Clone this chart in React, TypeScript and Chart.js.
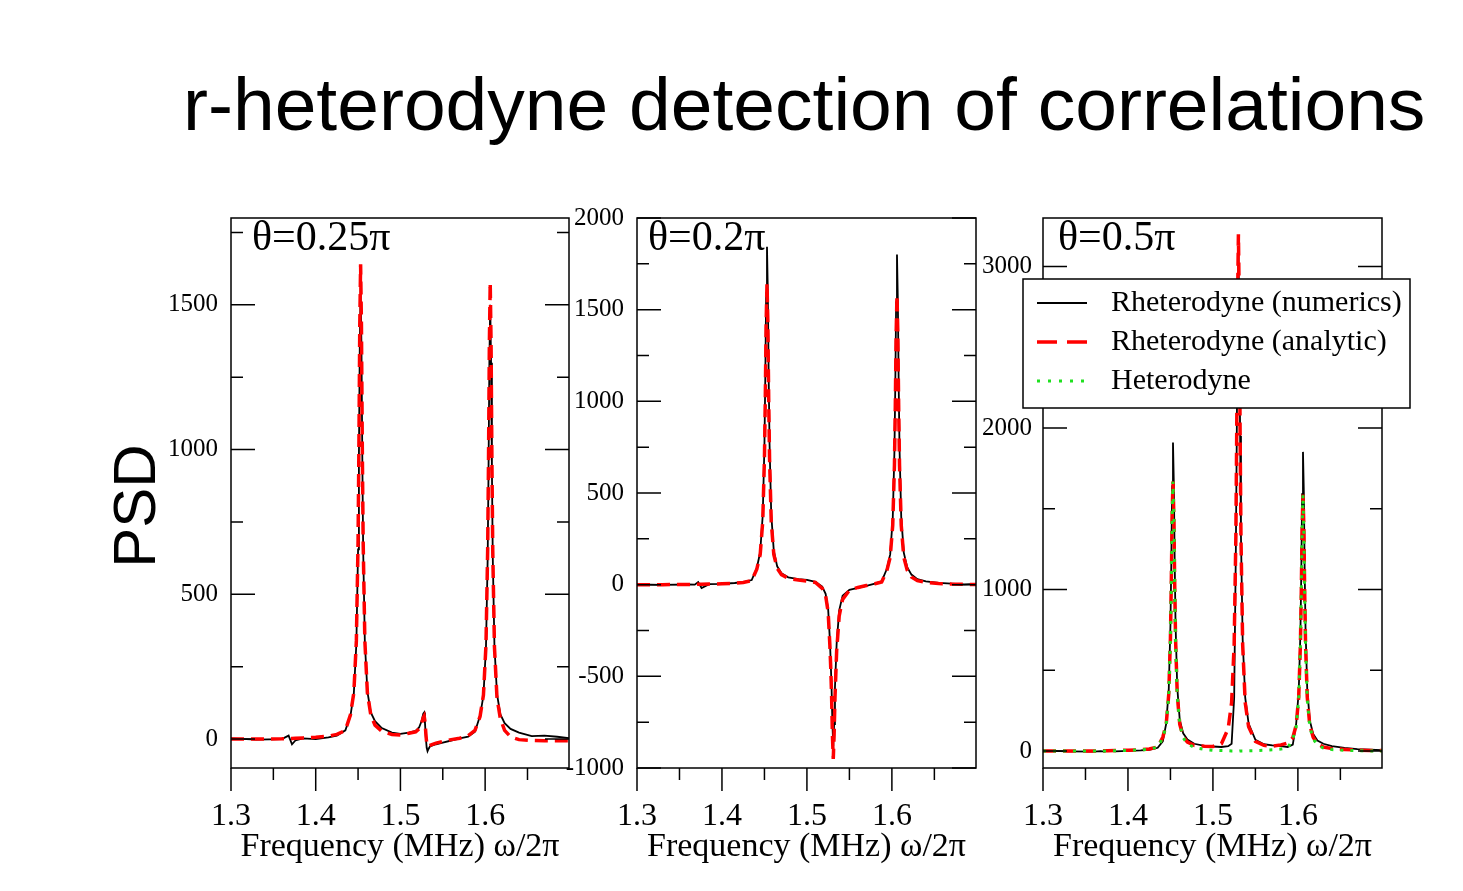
import React, { useEffect, useRef } from 'react';
import { Chart, registerables } from 'chart.js';

Chart.register(...registerables);

// frequency grid (MHz), denser around the resonances
const freq = [
  1.300, 1.330, 1.360, 1.368, 1.372, 1.376, 1.385, 1.400, 1.415, 1.425,
  1.435, 1.441, 1.445, 1.448, 1.450, 1.451, 1.452, 1.453, 1.454, 1.455,
  1.456, 1.458, 1.461, 1.465, 1.470, 1.478, 1.490, 1.500, 1.510, 1.518,
  1.522, 1.525, 1.527, 1.528, 1.529, 1.530, 1.531, 1.532, 1.533, 1.535,
  1.538, 1.542, 1.550, 1.560, 1.570, 1.580, 1.588, 1.594, 1.598, 1.601,
  1.603, 1.604, 1.605, 1.606, 1.607, 1.608, 1.609, 1.611, 1.614, 1.618,
  1.623, 1.630, 1.640, 1.655, 1.670, 1.685, 1.700,
];

// tick labels
const xTicks = [1.3, 1.4, 1.5, 1.6];
const p1YTicks = [0, 500, 1000, 1500];
const p2YTicks = [-1000, -500, 0, 500, 1000, 1500, 2000];
const p3YTicks = [0, 1000, 2000, 3000];

// theta = 0.25 pi
const p1Numerics = [
  2, -2, 0, 12, -18, -5, 2, 0, 6, 12,
  30, 80, 158, 330, 655, 970, 1350, 1560, 1355, 975,
  660, 335, 165, 92, 62, 38, 22, 18, 22, 28,
  40, 62, 88, 92, 55, 5, -30, -42, -35, -25,
  -22, -18, -12, -5, 2, 8, 25, 80, 150, 318,
  625, 925, 1300, 1500, 1300, 930, 630, 320, 155, 85,
  55, 35, 22, 10, 12, 8, 3,
];
const p1Analytic = [
  0, 0, 1, 2, 2, 3, 4, 6, 10, 16,
  30, 84, 160, 340, 684, 1012, 1426, 1640, 1426, 1010,
  684, 340, 160, 84, 48, 27, 16, 14, 20, 25,
  35, 55, 75, 80, 60, 20, -15, -25, -25, -22,
  -18, -14, -8, -2, 3, 12, 30, 78, 152, 325,
  655, 970, 1368, 1577, 1368, 965, 650, 318, 142, 70,
  30, 8, -2, -5, -6, -6, -6,
];

// theta = 0.2 pi
const p2Numerics = [
  2, -1, 1, 0, 14, -18, 3, 4, 9, 14,
  25, 90, 178, 380, 760, 1130, 1590, 1843, 1590, 1130,
  770, 385, 185, 100, 62, 40, 30, 26, 15, -10,
  -50, -135, -300, -420, -560, -760, -880, -760, -560, -320,
  -140, -60, -28, -18, -6, 6, 18, 85, 165, 360,
  730, 1080, 1540, 1801, 1550, 1090, 740, 370, 175, 95,
  55, 30, 18, 10, 6, 2, 4,
];
const p2Analytic = [
  0, 0, 1, 1, 2, 2, 3, 5, 8, 12,
  22, 85, 165, 345, 690, 1015, 1430, 1644, 1430, 1015,
  690, 345, 165, 90, 55, 35, 25, 20, 12, -20,
  -60, -150, -330, -450, -600, -820, -950, -820, -620, -360,
  -170, -80, -30, -15, -5, 5, 15, 75, 150, 325,
  650, 965, 1365, 1581, 1365, 965, 650, 325, 150, 80,
  42, 22, 12, 6, 3, 2, 1,
];

// theta = 0.5 pi
const p3Numerics = [
  3, -2, -4, 0, -3, 2, -2, 1, 4, 8,
  20, 60, 170, 380, 780, 1160, 1640, 1910, 1650, 1170,
  790, 395, 190, 110, 72, 45, 32, 28, 25, 30,
  45, 330, 1250, 1900, 2650, 3080, 2700, 1950, 1330, 690,
  330, 170, 70, 42, 35, 30, 25, 40, 170, 370,
  740, 1100, 1590, 1852, 1600, 1110, 760, 385, 190, 105,
  65, 45, 30, 20, 12, 8, 5,
];
const p3Analytic = [
  0, 0, 1, 1, 2, 2, 3, 5, 8, 13,
  25, 85, 165, 350, 700, 1035, 1455, 1669, 1455, 1035,
  700, 350, 165, 88, 55, 35, 30, 28, 45, 140,
  300, 660, 1330, 1970, 2780, 3200, 2780, 1970, 1330, 660,
  300, 150, 60, 35, 30, 38, 50, 82, 160, 335,
  665, 985, 1385, 1588, 1385, 985, 665, 335, 160, 85,
  45, 25, 15, 10, 6, 4, 3,
];
const p3Heterodyne = [
  0, 0, 0, 1, 1, 1, 2, 4, 7, 12,
  24, 82, 162, 346, 695, 1030, 1450, 1669, 1450, 1030,
  695, 346, 162, 82, 45, 22, 10, 5, 3, 2,
  1, 1, 1, 1, 0, 0, 0, 1, 1, 1,
  1, 2, 3, 5, 8, 12, 20, 75, 150, 325,
  655, 975, 1375, 1588, 1375, 975, 655, 325, 150, 75,
  38, 18, 9, 4, 2, 1, 1,
];

const seriesNames = ['Rheterodyne (numerics)', 'Rheterodyne (analytic)', 'Heterodyne'];

const SERIF = '"Liberation Serif", "Times New Roman", serif';
const SANS = '"Liberation Sans", Arial, sans-serif';

interface PanelSpec {
  left: number;
  width: number;
  yAxisWidth: number;
  padRight: number;
  yMin: number;
  yMax: number;
  yTicks: number[];
  yStep: number;
  yMinor: number;
  labelPad: number;
  theta: string;
  thetaDx: number;
  numerics: number[];
  analytic: number[];
  heterodyne?: number[];
  legend?: boolean;
}

const toPoints = (vals: number[]) => freq.map((f, i) => ({ x: f, y: vals[i] }));

// box, inward y ticks, outward x ticks, panel label and (optionally) the legend
const decorPlugin = (p: PanelSpec) => ({
  id: 'decor',
  afterDraw(chart: any) {
    const { ctx, chartArea: a } = chart;
    const xs = chart.scales.x;
    const ys = chart.scales.y;
    ctx.save();
    ctx.strokeStyle = '#000';
    ctx.lineWidth = 1.5;
    ctx.setLineDash([]);

    const first = Math.ceil(ys.min / p.yMinor);
    const last = Math.floor(ys.max / p.yMinor);
    for (let k = first; k <= last; k++) {
      const v = k * p.yMinor;
      const py = ys.getPixelForValue(v);
      const len = Math.abs(v % p.yStep) < 1e-6 ? 24 : 12;
      ctx.beginPath();
      ctx.moveTo(a.left, py);
      ctx.lineTo(a.left + len, py);
      ctx.moveTo(a.right, py);
      ctx.lineTo(a.right - len, py);
      ctx.stroke();
    }

    for (let k = 0; k <= 8; k++) {
      const v = 1.3 + k * 0.05;
      if (v > xs.max + 1e-9) break;
      const px = xs.getPixelForValue(v);
      ctx.beginPath();
      ctx.moveTo(px, a.bottom);
      ctx.lineTo(px, a.bottom + (k % 2 === 0 ? 23 : 12));
      ctx.stroke();
    }

    ctx.strokeRect(a.left, a.top, a.right - a.left, a.bottom - a.top);

    ctx.fillStyle = '#000';
    ctx.font = `42px ${SERIF}`;
    ctx.textAlign = 'left';
    ctx.textBaseline = 'alphabetic';
    ctx.fillText(p.theta, a.left + p.thetaDx, a.top + 32);

    if (p.legend) {
      const bx = a.left - 20;
      const by = a.top + 61;
      const bw = 387;
      const bh = 129;
      const legendDash = [[], [20, 10], [3, 8]];
      ctx.fillStyle = '#fff';
      ctx.fillRect(bx, by, bw, bh);
      ctx.strokeStyle = '#000';
      ctx.lineWidth = 1.5;
      ctx.strokeRect(bx, by, bw, bh);
      ctx.font = `30px ${SERIF}`;
      ctx.textBaseline = 'middle';
      chart.data.datasets.forEach((ds: any, i: number) => {
        const ly = by + 24 + i * 39;
        ctx.strokeStyle = ds.borderColor;
        ctx.lineWidth = ds.borderWidth;
        ctx.setLineDash(legendDash[i]);
        ctx.beginPath();
        ctx.moveTo(bx + 14, ly);
        ctx.lineTo(bx + 64, ly);
        ctx.stroke();
        ctx.setLineDash([]);
        ctx.fillStyle = '#000';
        ctx.fillText(ds.label, bx + 88, ly);
      });
    }
    ctx.restore();
  },
});

const Panel: React.FC<{ spec: PanelSpec }> = ({ spec }) => {
  const canvasRef = useRef<HTMLCanvasElement>(null);
  const chartRef = useRef<Chart | null>(null);

  useEffect(() => {
    if (!canvasRef.current) return;
    const datasets: any[] = [
      {
        label: seriesNames[0],
        data: toPoints(spec.numerics),
        borderColor: '#000000',
        borderWidth: 1.8,
        order: 3,
      },
      {
        label: seriesNames[1],
        data: toPoints(spec.analytic),
        borderColor: '#ff0000',
        borderWidth: 3.5,
        borderDash: [13, 7],
        order: 2,
      },
    ];
    if (spec.heterodyne) {
      datasets.push({
        label: seriesNames[2],
        data: toPoints(spec.heterodyne),
        borderColor: '#1fe01f',
        borderWidth: 3,
        borderDash: [3, 7],
        order: 1,
      });
    }

    chartRef.current = new Chart(canvasRef.current, {
      type: 'line',
      data: { datasets },
      options: {
        animation: false,
        responsive: false,
        layout: { padding: { left: 0, right: spec.padRight, top: 18, bottom: 0 } },
        elements: { point: { radius: 0 }, line: { tension: 0 } },
        plugins: { legend: { display: false }, tooltip: { enabled: false } },
        scales: {
          x: {
            type: 'linear',
            min: 1.3,
            max: 1.699,
            grid: { display: false, drawTicks: false },
            border: { display: false },
            afterBuildTicks: (s: any) => {
              s.ticks = xTicks.map((v) => ({ value: v }));
            },
            ticks: {
              padding: 29,
              color: '#000',
              font: { family: SERIF, size: 32 },
              callback: (v: any) => Number(v).toFixed(1),
            },
            title: {
              display: true,
              text: 'Frequency (MHz) ω/2π',
              color: '#000',
              font: { family: SERIF, size: 34 },
              padding: { top: 0, bottom: 24 },
            },
            afterFit: (s: any) => {
              s.height = 123;
              s.paddingLeft = 0;
              s.paddingRight = 0;
            },
          },
          y: {
            type: 'linear',
            min: spec.yMin,
            max: spec.yMax,
            grid: { display: false, drawTicks: false },
            border: { display: false },
            afterBuildTicks: (s: any) => {
              s.ticks = spec.yTicks.map((v) => ({ value: v }));
            },
            ticks: {
              padding: spec.labelPad,
              color: '#000',
              font: { family: SERIF, size: 25 },
              callback: (v: any) => String(v),
            },
            afterFit: (s: any) => {
              s.width = spec.yAxisWidth;
              s.paddingTop = 0;
              s.paddingBottom = 0;
            },
          },
        },
      } as any,
      plugins: [decorPlugin(spec)],
    });

    return () => {
      if (chartRef.current) {
        chartRef.current.destroy();
        chartRef.current = null;
      }
    };
  }, [spec]);

  return (
    <canvas
      ref={canvasRef}
      width={spec.width}
      height={691}
      style={{ position: 'absolute', left: spec.left, top: 200 }}
    />
  );
};

const panels: PanelSpec[] = [
  {
    left: 140, width: 440, yAxisWidth: 91, padRight: 11,
    yMin: -100, yMax: 1800, yTicks: p1YTicks, yStep: 500, yMinor: 250, labelPad: 13,
    theta: 'θ=0.25π', thetaDx: 21,
    numerics: p1Numerics, analytic: p1Analytic,
  },
  {
    left: 560, width: 430, yAxisWidth: 77, padRight: 14,
    yMin: -1000, yMax: 2000, yTicks: p2YTicks, yStep: 500, yMinor: 250, labelPad: 13,
    theta: 'θ=0.2π', thetaDx: 11,
    numerics: p2Numerics, analytic: p2Analytic,
  },
  {
    left: 966, width: 460, yAxisWidth: 77, padRight: 44,
    yMin: -105, yMax: 3300, yTicks: p3YTicks, yStep: 1000, yMinor: 500, labelPad: 11,
    theta: 'θ=0.5π', thetaDx: 15,
    numerics: p3Numerics, analytic: p3Analytic, heterodyne: p3Heterodyne,
    legend: true,
  },
];

const App: React.FC = () => {
  return (
    <div
      style={{
        position: 'fixed',
        left: 0,
        top: 0,
        width: 1463,
        height: 891,
        background: '#fff',
        overflow: 'hidden',
      }}
    >
      <div
        style={{
          position: 'absolute',
          left: 183,
          top: 67,
          fontFamily: SANS,
          fontSize: 75,
          lineHeight: 1,
          color: '#000',
          whiteSpace: 'nowrap',
        }}
      >
        r-heterodyne detection of correlations
      </div>
      <div
        style={{
          position: 'absolute',
          left: 135,
          top: 506,
          transform: 'translate(-50%, -50%) rotate(-90deg)',
          fontFamily: SANS,
          fontSize: 60,
          lineHeight: 1,
          color: '#000',
          whiteSpace: 'nowrap',
        }}
      >
        PSD
      </div>
      {panels.map((p, i) => (
        <Panel key={i} spec={p} />
      ))}
    </div>
  );
};

export default App;
